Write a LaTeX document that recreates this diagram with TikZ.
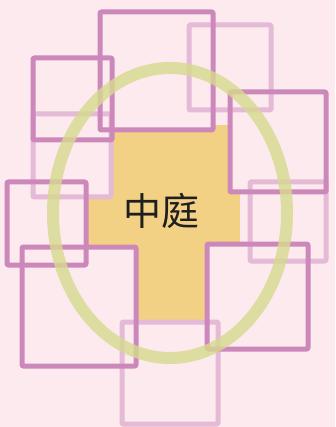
\documentclass[tikz,border=0pt]{standalone}
\usepackage{fontspec}
\newfontfamily\cjk{Noto Sans CJK SC}
\definecolor{sfondo}{HTML}{FDEAEE}
\definecolor{giallo}{HTML}{F2D184}
\definecolor{viola}{HTML}{CC88BB}
\definecolor{violachiaro}{HTML}{E4BAD6}
\definecolor{oliva}{HTML}{D6DA8E}
\tikzset{
  stanza/.style={line width=5pt, line join=round, rounded corners=1pt},
  stanzascura/.style={stanza, draw=viola},
  stanzachiara/.style={stanza, draw=violachiaro},
}
\begin{document}
\begin{tikzpicture}[x=1pt,y=-1pt]
        % Sfondo
        \fill[sfondo] (0,0) rectangle (335,427);
        \useasboundingbox (0,0) rectangle (335,427);

        % Cortile
        \fill[giallo] (85,125) rectangle (240,320);

        % Riempimenti delle stanze
        \foreach \xa/\ya/\xb/\yb in {100/12/213/130, 33/58/112/140, 230/92/326/192,
            7/182/86/265, 22/247/136/366, 207/244/308/349,
            189/25/271/110, 33/114/111/197, 250/182/326/261, 122/322/218/424}
            \fill[sfondo] (\xa,\ya) rectangle (\xb,\yb);

        % Stanze chiare
        \foreach \xa/\ya/\xb/\yb in {189/25/271/110, 33/114/111/197, 250/182/326/261, 122/322/218/424}
            \draw[stanzachiara] (\xa,\ya) rectangle (\xb,\yb);

        % Stanze scure
        \foreach \xa/\ya/\xb/\yb in {100/12/213/130, 33/58/112/140, 230/92/326/192,
            7/182/86/265, 22/247/136/366, 207/244/308/349}
            \draw[stanzascura] (\xa,\ya) rectangle (\xb,\yb);

        % Ellisse
        \draw[oliva, line width=12pt, opacity=0.8] (170,213) ellipse [x radius=117, y radius=145];

        \node[text=black!88, font=\cjk\fontsize{38}{42}\selectfont] (cortile) at (161,211) {中庭}; % Etichetta
    \end{tikzpicture}
\end{document}
